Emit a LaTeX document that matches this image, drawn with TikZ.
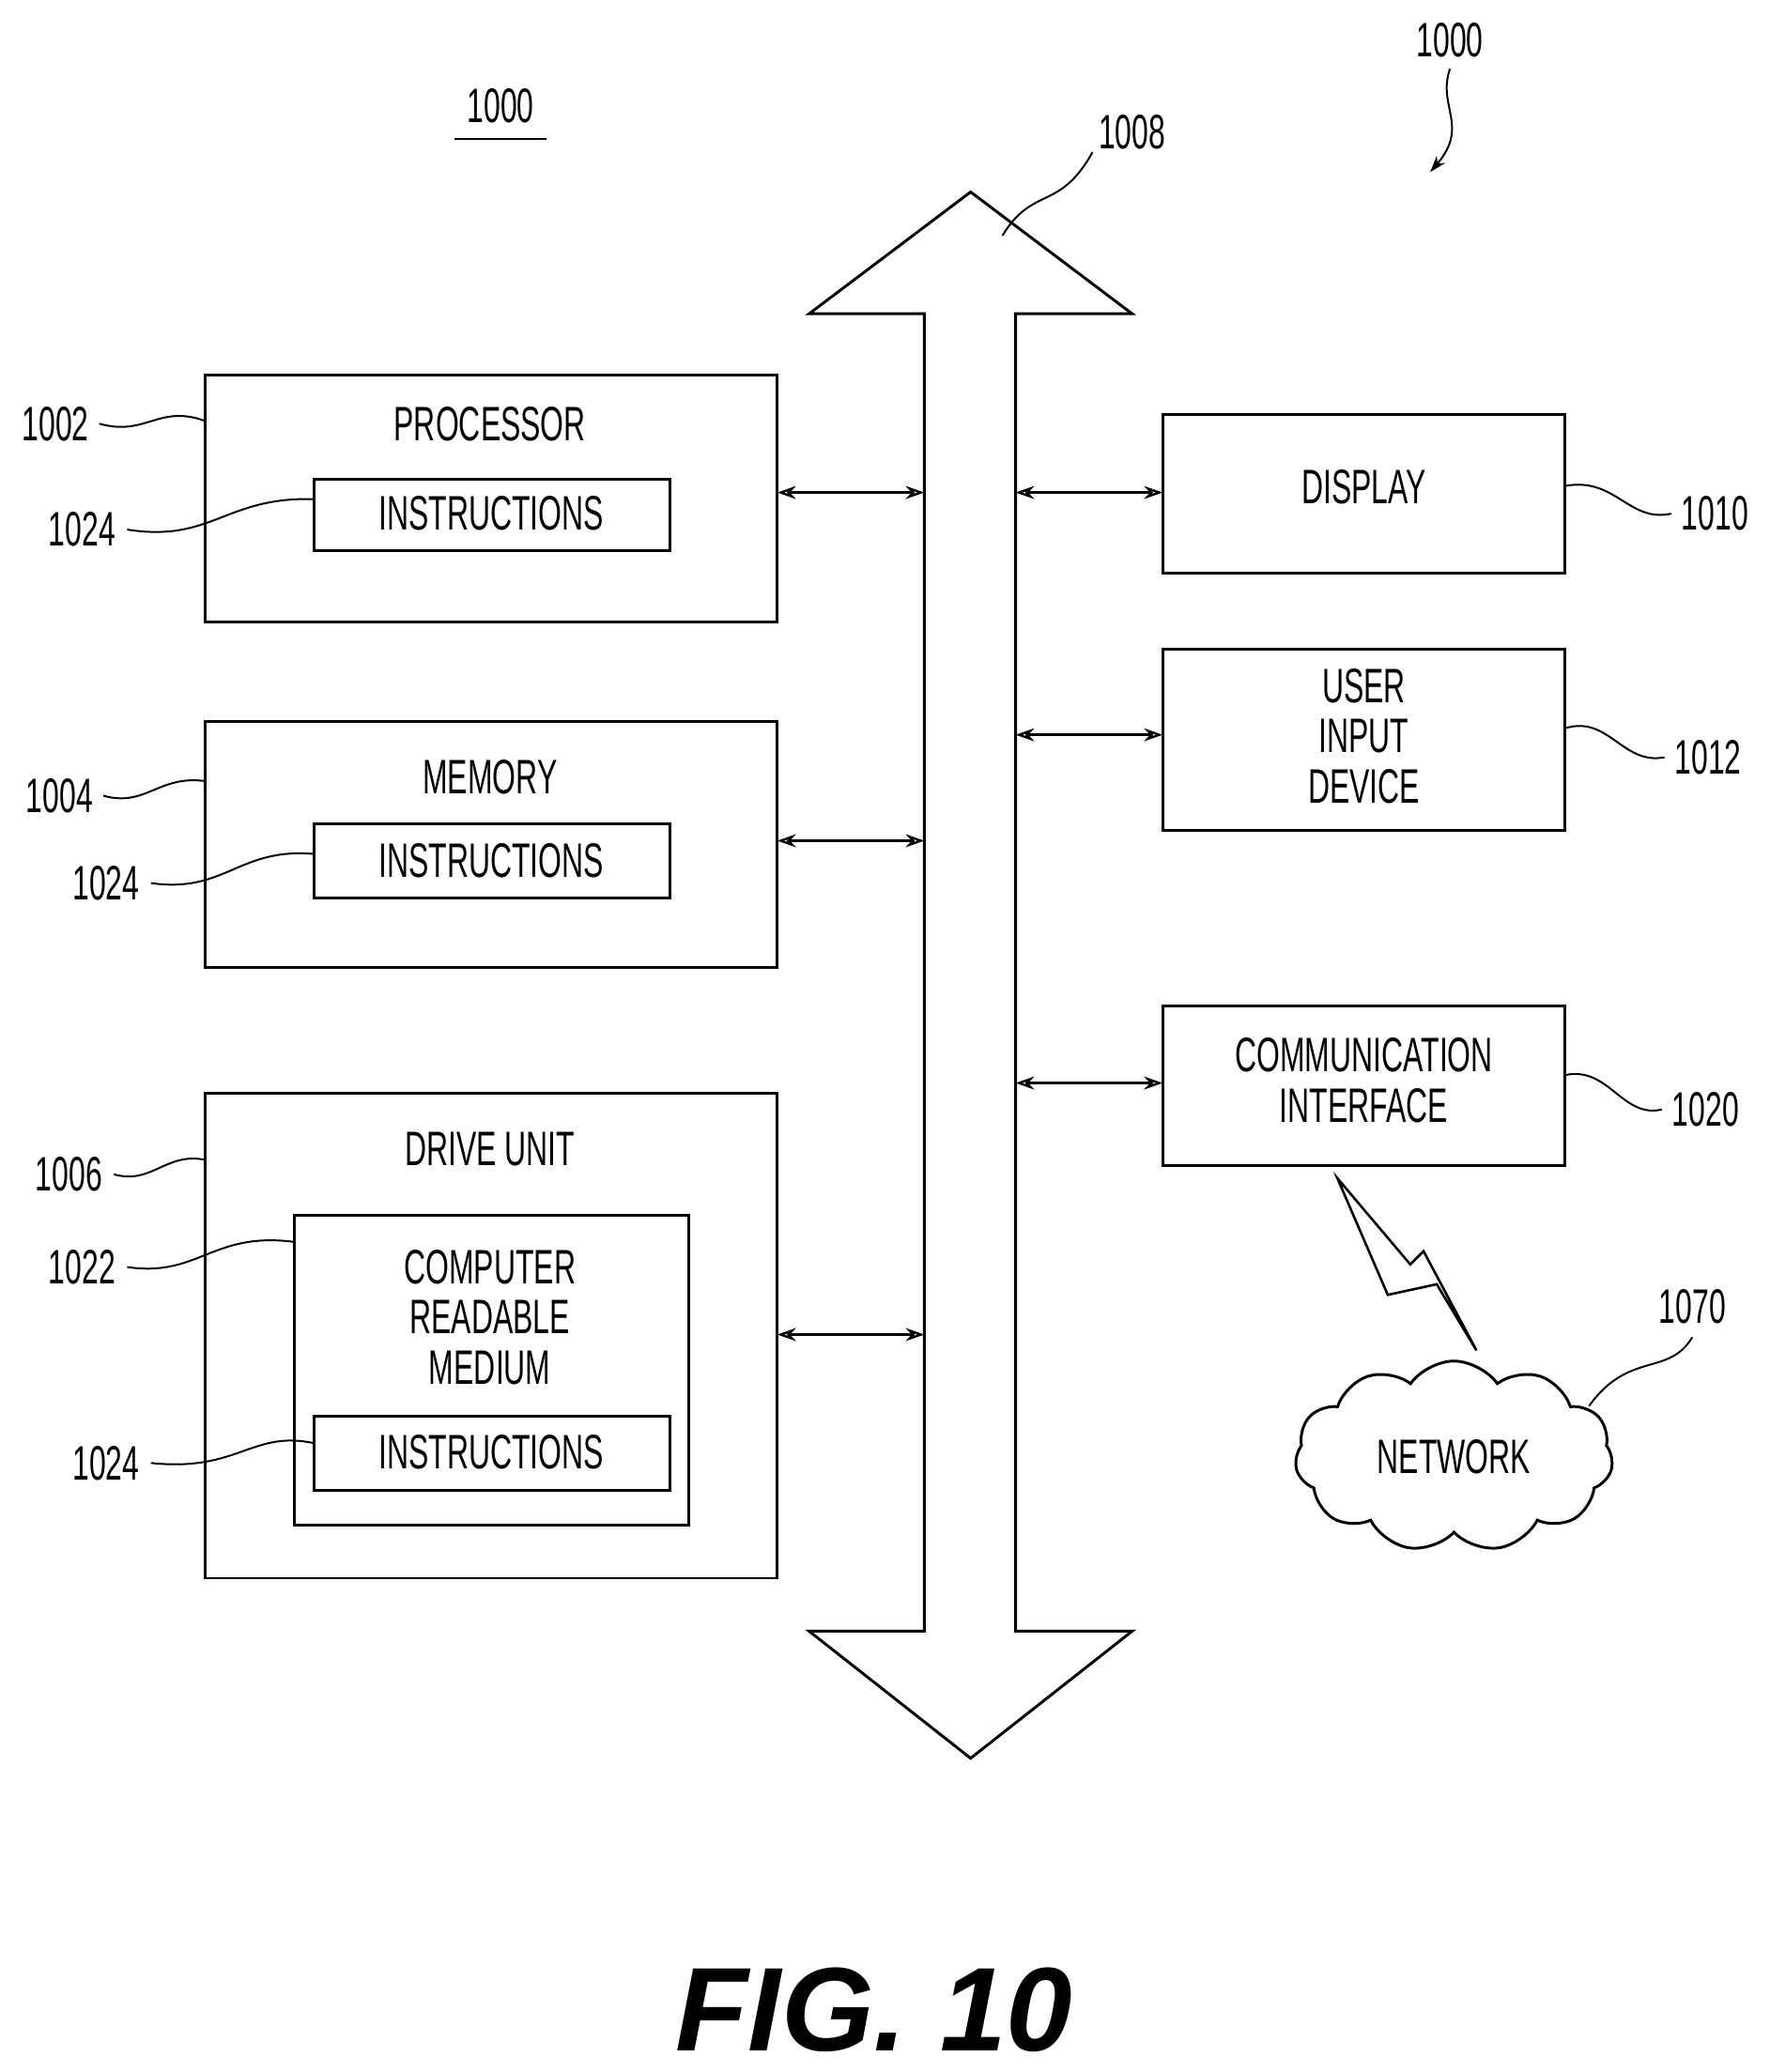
\documentclass[tikz,border=0pt]{standalone}
\usepackage{fontspec}
\setmainfont{Liberation Sans}[FakeStretch=0.62]
\newfontfamily\figfont{Liberation Sans}
\usetikzlibrary{shapes.symbols,arrows.meta}
\begin{document}
\begin{tikzpicture}[x=0.05cm,y=-0.05cm,
  box/.style={draw,line width=3pt,inner sep=0},
  txt/.style={font=\fontsize{52}{56}\selectfont,align=center,inner sep=0},
  lbl/.style={font=\fontsize{52}{56}\selectfont,inner sep=0},
  lead/.style={line width=2pt},
  dar/.style={line width=2.4pt,{Stealth[length=20pt,width=14pt,open]}-{Stealth[length=20pt,width=14pt,open]}}]
\useasboundingbox (0,0) rectangle (1336,1565);
% boxes
\draw[box] (155,283) rectangle (587,470);
\node[txt] (proc) at (370,320) {PROCESSOR};
\draw[box] (237,362) rectangle (506,416);
\node[txt] (i1) at (371,388) {INSTRUCTIONS};
\draw[box] (155,545) rectangle (587,731);
\node[txt] (mem) at (370,587) {MEMORY};
\draw[box] (237,622) rectangle (506,678);
\node[txt] (i2) at (371,650) {INSTRUCTIONS};
\draw[box] (155,826) rectangle (587,1192);
\node[txt] (du) at (370,868) {DRIVE UNIT};
\draw[box] (222,918) rectangle (520,1152);
\node[txt] (crm) at (370,995) {COMPUTER\\[-2pt]READABLE\\[-2pt]MEDIUM};
\draw[box] (237,1070) rectangle (506,1126);
\node[txt] (i3) at (371,1097) {INSTRUCTIONS};
\draw[box] (878,313) rectangle (1182,433);
\node[txt] (disp) at (1030,368) {DISPLAY};
\draw[box] (878,490) rectangle (1182,627);
\node[txt] (uid) at (1030,556) {USER\\[-2pt]INPUT\\[-2pt]DEVICE};
\draw[box] (878,760) rectangle (1182,880);
\node[txt] (ci) at (1030,816) {COMMUNICATION\\[-2pt]INTERFACE};
% bus
\draw[line width=3pt] (698,1232) -- (698,237) -- (611,237) -- (733,145) -- (855,237) -- (767,237) -- (767,1232) -- (855,1232) -- (733,1328) -- (611,1232) -- cycle;
% arrows
\draw[dar] (587,372) -- (698,372);
\draw[dar] (587,635) -- (698,635);
\draw[dar] (587,1008) -- (698,1008);
\draw[dar] (767,372) -- (878,372);
\draw[dar] (767,555) -- (878,555);
\draw[dar] (767,818) -- (878,818);
% network
\node[cloud,draw,line width=3pt,cloud puffs=11,cloud puff arc=110,aspect=1.7,minimum width=12cm,minimum height=7.2cm,txt] (net) at (1098,1100) {NETWORK};
\draw[line width=2.6pt] (1010,890) -- (1065,955) -- (1075,945) -- (1115,1020) -- (1085,970) -- (1048,978) -- cycle;
% labels
\node[lbl] (l1002) at (42,320) {1002};
\draw[lead] (75,320) .. controls (110,330) and (120,305) .. (155,318);
\node[lbl] (l1024a) at (62,400) {1024};
\draw[lead] (96,400) .. controls (160,410) and (170,375) .. (237,377);
\node[lbl] (l1004) at (45,601) {1004};
\draw[lead] (78,601) .. controls (110,610) and (120,585) .. (155,590);
\node[lbl] (l1024b) at (80,667) {1024};
\draw[lead] (114,667) .. controls (170,675) and (180,640) .. (237,645);
\node[lbl] (l1006) at (52,887) {1006};
\draw[lead] (86,887) .. controls (115,895) and (125,870) .. (155,876);
\node[lbl] (l1022) at (62,957) {1022};
\draw[lead] (96,957) .. controls (150,965) and (160,930) .. (222,938);
\node[lbl] (l1024c) at (80,1105) {1024};
\draw[lead] (114,1105) .. controls (180,1112) and (190,1080) .. (237,1090);
\node[lbl] (l1010) at (1295,388) {1010};
\draw[lead] (1182,367) .. controls (1220,360) and (1230,395) .. (1262,388);
\node[lbl] (l1012) at (1290,572) {1012};
\draw[lead] (1182,550) .. controls (1215,540) and (1225,578) .. (1257,572);
\node[lbl] (l1020) at (1288,838) {1020};
\draw[lead] (1182,812) .. controls (1215,805) and (1225,845) .. (1255,838);
\node[lbl] (l1070) at (1278,987) {1070};
\draw[lead] (1278,1010) .. controls (1260,1040) and (1230,1020) .. (1200,1062);
\node[lbl] (l1008) at (855,100) {1008};
\draw[lead] (825,115) .. controls (800,160) and (780,140) .. (757,178);
\node[lbl] (l1000) at (1095,30) {1000};
\draw[lead,-{Stealth[length=18pt,width=12pt]}] (1095,52) .. controls (1085,80) and (1110,95) .. (1080,130);
\node[lbl] (t1000) at (378,80) {1000};
\draw[line width=2.5pt] (343,105) -- (413,105);
\node[inner sep=0] (fig) at (660,1518) {\figfont\fontsize{128}{140}\selectfont\bfseries\itshape FIG. 10};
\end{tikzpicture}
\end{document}
